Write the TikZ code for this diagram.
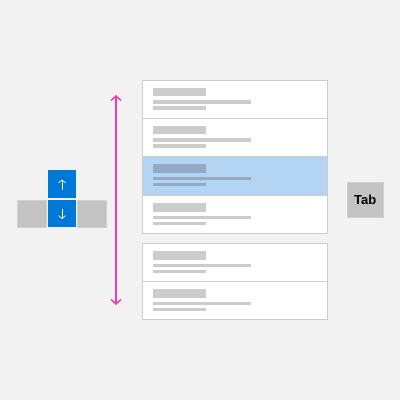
\documentclass[tikz,border=0pt]{standalone}
\usepackage{fontspec}
\setmainfont{Liberation Sans}
\usetikzlibrary{arrows.meta}
\definecolor{bg}{HTML}{F2F2F2}
\definecolor{keyblue}{HTML}{0078D7}
\definecolor{keygray}{HTML}{C3C3C3}
\definecolor{keyedge}{HTML}{CFCFCF}
\definecolor{listedge}{HTML}{CCCCCC}
\definecolor{ph}{HTML}{CCCCCC}
\definecolor{phsel}{HTML}{93AAC4}
\definecolor{selfill}{HTML}{B3D5F3}
\definecolor{pinkc}{HTML}{F53AAE}
\begin{document}
\begin{tikzpicture}[x=1pt,y=-1pt,
  bluekey/.style={fill=keyblue,draw=none,minimum width=28pt,minimum height=27.5pt,inner sep=0pt,outer sep=0pt,anchor=north west},
  graykey/.style={fill=keygray,draw=keyedge,line width=0.8pt,minimum width=28.5pt,minimum height=26.5pt,inner sep=0pt,outer sep=0pt,anchor=north west},
  rowbox/.style={fill=white,draw=listedge,line width=1pt},
  selbox/.style={fill=selfill,draw=listedge,line width=1pt},
  whitearr/.style={draw=white,line width=0.7pt,-{Straight Barb[length=3pt,width=7pt,line width=0.7pt]}},
  pinkarr/.style={draw=pinkc,line width=1.8pt,{Straight Barb[length=4.5pt,width=10pt,line width=1.5pt]}-{Straight Barb[length=4.5pt,width=10pt,line width=1.5pt]}}
]
\useasboundingbox (0,0) rectangle (400,400);
\fill[bg] (0,0) rectangle (400,400);

% arrow keys
\node[bluekey] (up) at (48,170) {};
\node[bluekey] (down) at (48,199.5) {};
\node[graykey] (left) at (17.5,200.5) {};
\node[graykey] (right) at (77.5,200.5) {};
\coordinate (upa) at (62,189.5);
\coordinate (upb) at (62,179.5);
\draw[whitearr] (upa) -- (upb);
\coordinate (dna) at (62,208.5);
\coordinate (dnb) at (62,219);
\draw[whitearr] (dna) -- (dnb);

% pink double arrow
\coordinate (ptop) at (116,95);
\coordinate (pbot) at (116,305);
\draw[pinkarr] (ptop) -- (pbot);

% list rows
\path[rowbox] (142.5,80) rectangle (327,118);
\fill[ph] (153,87.7) rectangle (206,96.3);
\fill[ph] (153,100) rectangle (251,103.5);
\fill[ph] (153,106) rectangle (206,109.8);

\path[rowbox] (142.5,118) rectangle (327,156);
\fill[ph] (153,125.7) rectangle (206,134.3);
\fill[ph] (153,138) rectangle (251,141.5);
\fill[ph] (153,144) rectangle (206,147.8);

\path[selbox] (142.5,156) rectangle (327,195);
\fill[phsel] (153,164) rectangle (206,172.6);
\fill[phsel] (153,176.5) rectangle (251,180);
\fill[phsel] (153,182.5) rectangle (206,186.3);

\path[rowbox] (142.5,195) rectangle (327,233);
\fill[ph] (153,203.2) rectangle (206,211.8);
\fill[ph] (153,215.5) rectangle (251,219);
\fill[ph] (153,221.5) rectangle (206,225.3);

\path[rowbox] (142.5,243.5) rectangle (327,281);
\fill[ph] (153,251.2) rectangle (206,259.8);
\fill[ph] (153,263.5) rectangle (251,267);
\fill[ph] (153,269.5) rectangle (206,273.3);

\path[rowbox] (142.5,281) rectangle (327,319.5);
\fill[ph] (153,289.2) rectangle (206,297.8);
\fill[ph] (153,301.5) rectangle (251,305);
\fill[ph] (153,307.5) rectangle (206,311.3);

% Tab key
\node[fill=keygray,draw=keyedge,line width=0.8pt,minimum width=35.5pt,minimum height=35pt,inner sep=0pt,anchor=north west,font=\fontsize{13}{14}\selectfont\bfseries] (tab) at (347,182.2) {Tab};
\end{tikzpicture}
\end{document}
